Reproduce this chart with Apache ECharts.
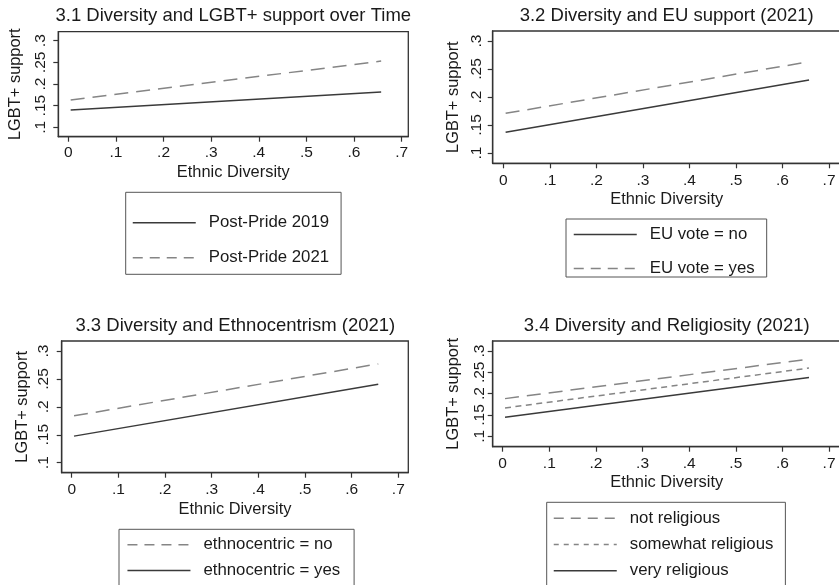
<!DOCTYPE html>
<html><head><meta charset="utf-8">
<script src="https://cdn.jsdelivr.net/npm/echarts@6/dist/echarts.min.js"></script>
<style>html,body{margin:0;padding:0;background:#fff}#c{width:839px;height:585px}</style>
</head><body><div id="c"></div>
<script>
// ---- data ----
const xTicks = [0, 0.1, 0.2, 0.3, 0.4, 0.5, 0.6, 0.7];
const yTicks = [0.1, 0.15, 0.2, 0.25, 0.3];
const xEnds = [0.005, 0.657];

const titles = [
  '3.1 Diversity and LGBT+ support over Time',
  '3.2 Diversity and EU support (2021)',
  '3.3 Diversity and Ethnocentrism (2021)',
  '3.4 Diversity and Religiosity (2021)'
];
const xTitle = 'Ethnic Diversity';
const yTitle = 'LGBT+ support';

// panel 3.1
const p1Names = ['Post-Pride 2019', 'Post-Pride 2021'];
const p1Pride2019 = [0.140, 0.1815];
const p1Pride2021 = [0.163, 0.253];
// panel 3.2
const p2Names = ['EU vote = no', 'EU vote = yes'];
const p2EuNo = [0.137, 0.2304];
const p2EuYes = [0.1708, 0.263];
// panel 3.3
const p3Names = ['ethnocentric = no', 'ethnocentric = yes'];
const p3EthnoNo = [0.1839, 0.2769];
const p3EthnoYes = [0.1476, 0.2404];
// panel 3.4
const p4Names = ['not religious', 'somewhat religious', 'very religious'];
const p4NotRel = [0.1883, 0.281];
const p4SomeRel = [0.1664, 0.260];
const p4VeryRel = [0.1445, 0.238];

// ---- styling ----
const FONT = '"Liberation Sans", Arial, Helvetica, sans-serif';
const TXT = '#1a1a1a';
const AX = '#333333';
const SOLID = '#3a3a3a';
const DASH = '#858585';
const STYLES = {
  solid: { plot: 'solid', key: 'solid', color: SOLID },
  long: { plot: [14, 8], key: [10, 7], color: DASH },
  short: { plot: [6, 4.5], key: [5, 5], color: DASH }
};

function pts(vals) { return xEnds.map((x, i) => [x, vals[i]]); }
function fmt(v) {
  if (Math.abs(v) < 1e-9) return '0';
  return String(+v.toFixed(2)).replace(/^0\./, '.');
}

const grids = [
  { box: [58.3, 31.7, 350, 105], xr: [-0.021, 0.714], yr: [0.0783, 0.3208], ylm: 9.6, yng: 35, xlm: 8, xng: 28 },
  { box: [492.7, 31, 348, 132.3], xr: [-0.0228, 0.725], yr: [0.0816, 0.3179], ylm: 8, yng: 31, xlm: 9.5, xng: 28 },
  { box: [61.7, 341, 346.6, 131.7], xr: [-0.0214, 0.7214], yr: [0.0821, 0.3179], ylm: 10, yng: 31.5, xlm: 8.8, xng: 28.5 },
  { box: [492.7, 341, 348, 105.7], xr: [-0.0214, 0.725], yr: [0.0756, 0.3234], ylm: 5, yng: 31, xlm: 9.5, xng: 27.5 }
];

const seriesDefs = [
  [p1Names[0], p1Pride2019, 0, 'solid'],
  [p1Names[1], p1Pride2021, 0, 'long'],
  [p2Names[0], p2EuNo, 1, 'solid'],
  [p2Names[1], p2EuYes, 1, 'long'],
  [p3Names[0], p3EthnoNo, 2, 'long'],
  [p3Names[1], p3EthnoYes, 2, 'solid'],
  [p4Names[0], p4NotRel, 3, 'long'],
  [p4Names[1], p4SomeRel, 3, 'short'],
  [p4Names[2], p4VeryRel, 3, 'solid']
];
const styleOf = {};
seriesDefs.forEach(d => { styleOf[d[0]] = STYLES[d[3]]; });

function legendData(names) {
  return names.map(n => ({ name: n, lineStyle: { type: styleOf[n].key, color: styleOf[n].color, width: 1.5 } }));
}

const option = {
  animation: false,
  backgroundColor: '#ffffff',
  textStyle: { fontFamily: FONT, color: TXT },
  title: [
    { text: titles[0], left: 233.3, top: 6, textAlign: 'center' },
    { text: titles[1], left: 666.7, top: 6.5, textAlign: 'center' },
    { text: titles[2], left: 235.3, top: 316.5, textAlign: 'center' },
    { text: titles[3], left: 666.7, top: 316, textAlign: 'center' }
  ].map(t => Object.assign(t, { padding: 0, textStyle: { fontFamily: FONT, fontSize: 18.5, fontWeight: 'normal', color: TXT } })),
  grid: grids.map(g => ({
    left: g.box[0], top: g.box[1], width: g.box[2], height: g.box[3],
    containLabel: false, outerBoundsMode: 'none',
    show: true, borderColor: AX, borderWidth: 1.3, backgroundColor: 'transparent'
  })),
  xAxis: grids.map((g, i) => ({
    type: 'value', gridIndex: i, min: g.xr[0], max: g.xr[1],
    name: xTitle, nameLocation: 'middle', nameGap: g.xng,
    nameTextStyle: { fontFamily: FONT, fontSize: 16.4, color: TXT },
    axisLine: { show: true, onZero: false, lineStyle: { color: AX, width: 1.3 } },
    axisTick: { show: true, inside: false, length: 5, customValues: xTicks, lineStyle: { color: AX, width: 1.2 } },
    axisLabel: { show: true, customValues: xTicks, formatter: fmt, margin: g.xlm, fontFamily: FONT, fontSize: 15.5, color: TXT, showMinLabel: true, showMaxLabel: true },
    splitLine: { show: false }
  })),
  yAxis: grids.map((g, i) => ({
    type: 'value', gridIndex: i, min: g.yr[0], max: g.yr[1],
    name: yTitle, nameLocation: 'middle', nameGap: g.yng, nameRotate: 90,
    nameTextStyle: { fontFamily: FONT, fontSize: 16.4, color: TXT },
    axisLine: { show: true, onZero: false, lineStyle: { color: AX, width: 1.3 } },
    axisTick: { show: true, inside: false, length: 5, customValues: yTicks, lineStyle: { color: AX, width: 1.2 } },
    axisLabel: { show: true, customValues: yTicks, formatter: fmt, rotate: 90, margin: g.ylm, fontFamily: FONT, fontSize: 15.5, color: TXT, showMinLabel: true, showMaxLabel: true },
    splitLine: { show: false }
  })),
  legend: [
    { data: legendData(p1Names), left: 125.7, top: 192.3, padding: [22, 12, 8, 6.3], itemGap: 18 },
    { data: legendData(p2Names), left: 566, top: 219, padding: [7, 12, 0, 7], itemGap: 17 },
    { data: legendData(p3Names), left: 119, top: 529.3, padding: [7, 14, 16, 7.7], itemGap: 8.7 },
    { data: legendData(p4Names), left: 546.7, top: 502.3, padding: [7.5, 12, 16, 6.3], itemGap: 9.2 }
  ].map(l => Object.assign(l, {
    orient: 'vertical', itemWidth: 63, itemHeight: 14, selectedMode: false,
    height: 500,
    borderColor: '#555555', borderWidth: 1, backgroundColor: '#ffffff',
    itemStyle: { opacity: 0 },
    textStyle: { fontFamily: FONT, fontSize: 16.8, color: TXT, padding: [0, 0, 0, 8] }
  })),
  series: seriesDefs.map(d => {
    const st = STYLES[d[3]];
    return {
      type: 'line', name: d[0], data: pts(d[1]), xAxisIndex: d[2], yAxisIndex: d[2],
      symbol: 'none', showSymbol: false, silent: true,
      lineStyle: { color: st.color, type: st.plot, width: 1.5 },
      itemStyle: { color: st.color },
      emphasis: { disabled: true }
    };
  })
};

const chart = echarts.init(document.getElementById('c'), null, { renderer: 'canvas' });
chart.setOption(option);
</script>
</body></html>
